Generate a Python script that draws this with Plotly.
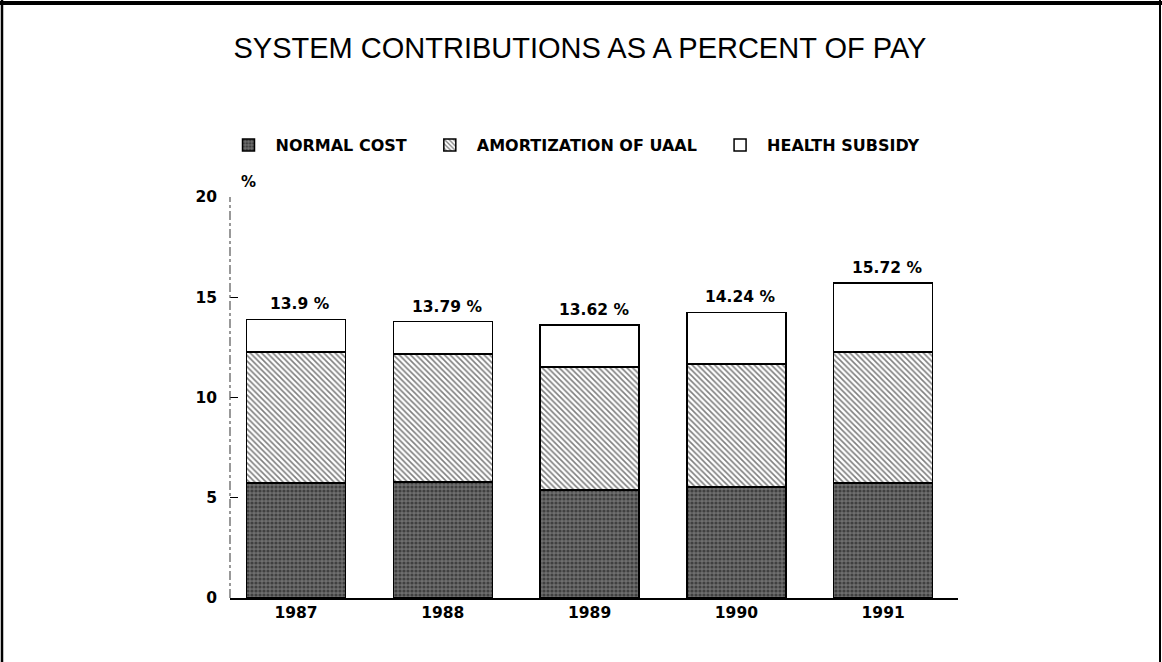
import plotly.graph_objects as go

years = ["1987", "1988", "1989", "1990", "1991"]
normal_cost = [5.74, 5.79, 5.39, 5.54, 5.74]
amort_uaal = [6.53, 6.38, 6.13, 6.13, 6.53]
totals = [13.90, 13.79, 13.62, 14.24, 15.72]
total_labels = ["13.9 %", "13.79 %", "13.62 %", "14.24 %", "15.72 %"]
health_subsidy = [round(t - n - a, 2) for t, n, a in zip(totals, normal_cost, amort_uaal)]
y_ticks = [0, 5, 10, 15, 20]
series_names = ["NORMAL COST", "AMORTIZATION OF UAAL", "HEALTH SUBSIDY"]

FONT = "Liberation Sans, Arial, sans-serif"
BFONT = "DejaVu Sans, Verdana, sans-serif"
xpos = list(range(len(years)))
PAD = "\u00a0\u00a0"

fig = go.Figure()
fig.add_trace(go.Bar(
    x=xpos, y=normal_cost, name=series_names[0] + PAD, width=0.675,
    marker=dict(color="#505050", line=dict(color="black", width=1.5),
                pattern=dict(shape=".", fgcolor="#111111", bgcolor="#6e6e6e", size=4, solidity=0.5)),
))
fig.add_trace(go.Bar(
    x=xpos, y=amort_uaal, name=series_names[1] + PAD, width=0.675,
    marker=dict(color="white", line=dict(color="black", width=1.5),
                pattern=dict(shape="\\", fgcolor="black", bgcolor="white", size=4, solidity=0.4)),
))
fig.add_trace(go.Bar(
    x=xpos, y=health_subsidy, name=series_names[2], width=0.675,
    marker=dict(color="white", line=dict(color="black", width=1.5)),
))

for i, (t, lab) in enumerate(zip(totals, total_labels)):
    fig.add_annotation(x=i, y=t, text=lab, showarrow=False, yanchor="bottom", yshift=4, xshift=4,
                       font=dict(family=BFONT, size=15.5, color="black", weight="bold"))

W0, H0 = 728, 401
def px(x): return (x - 230) / W0
def py(y): return (598 - y) / H0

fig.add_annotation(x=px(239), y=py(182), xref="paper", yref="paper", text="%", showarrow=False,
                   yanchor="middle", xanchor="left",
                   font=dict(family=BFONT, size=15, color="black", weight="bold"))

shapes = [
    dict(type="line", xref="paper", yref="paper", x0=px(0), x1=px(1162), y0=py(3), y1=py(3),
         line=dict(color="black", width=4)),
    dict(type="line", xref="paper", yref="paper", x0=px(2), x1=px(2), y0=py(0), y1=py(662),
         line=dict(color="black", width=2.5)),
    dict(type="line", xref="paper", yref="paper", x0=px(1160), x1=px(1160), y0=py(0), y1=py(662),
         line=dict(color="black", width=2)),
    dict(type="line", xref="paper", yref="paper", x0=0, x1=0, y0=0, y1=1,
         line=dict(color="#555555", width=1.2, dash="dashdot")),
]

fig.update_layout(
    width=1162, height=662,
    margin=dict(l=230, r=204, t=197, b=64),
    paper_bgcolor="white", plot_bgcolor="white",
    barmode="stack", bargap=0.3,
    title=dict(text="SYSTEM CONTRIBUTIONS AS A PERCENT OF PAY", x=px(580), xref="paper", xanchor="center",
               y=1 - 48 / 662, yanchor="middle",
               font=dict(family=FONT, size=29, color="black")),
    legend=dict(orientation="h", x=px(573), xanchor="center", y=py(145), yanchor="middle",
                xref="paper", yref="paper",
                font=dict(family=BFONT, size=16, color="black", weight="bold"),
                traceorder="normal", itemwidth=44),
    font=dict(family=FONT, color="black"),
    shapes=shapes,
    showlegend=True,
)
fig.update_xaxes(range=[-0.45, 4.51], tickvals=xpos, ticktext=years, showline=True,
                 linecolor="black", linewidth=1.5, ticks="", showgrid=False, zeroline=False,
                 tickfont=dict(family=BFONT, size=15.5, color="black", weight="bold"))
fig.update_yaxes(range=[0, 20], tickvals=y_ticks, showline=False, ticks="inside", ticklen=8,
                 tickcolor="black", tickwidth=1.2, showgrid=False, zeroline=False,
                 ticklabelstandoff=12,
                 tickfont=dict(family=BFONT, size=15.5, color="black", weight="bold"))

fig.write_html("out.html", post_script="document.body.style.margin='0';",
               config={"displayModeBar": False})
